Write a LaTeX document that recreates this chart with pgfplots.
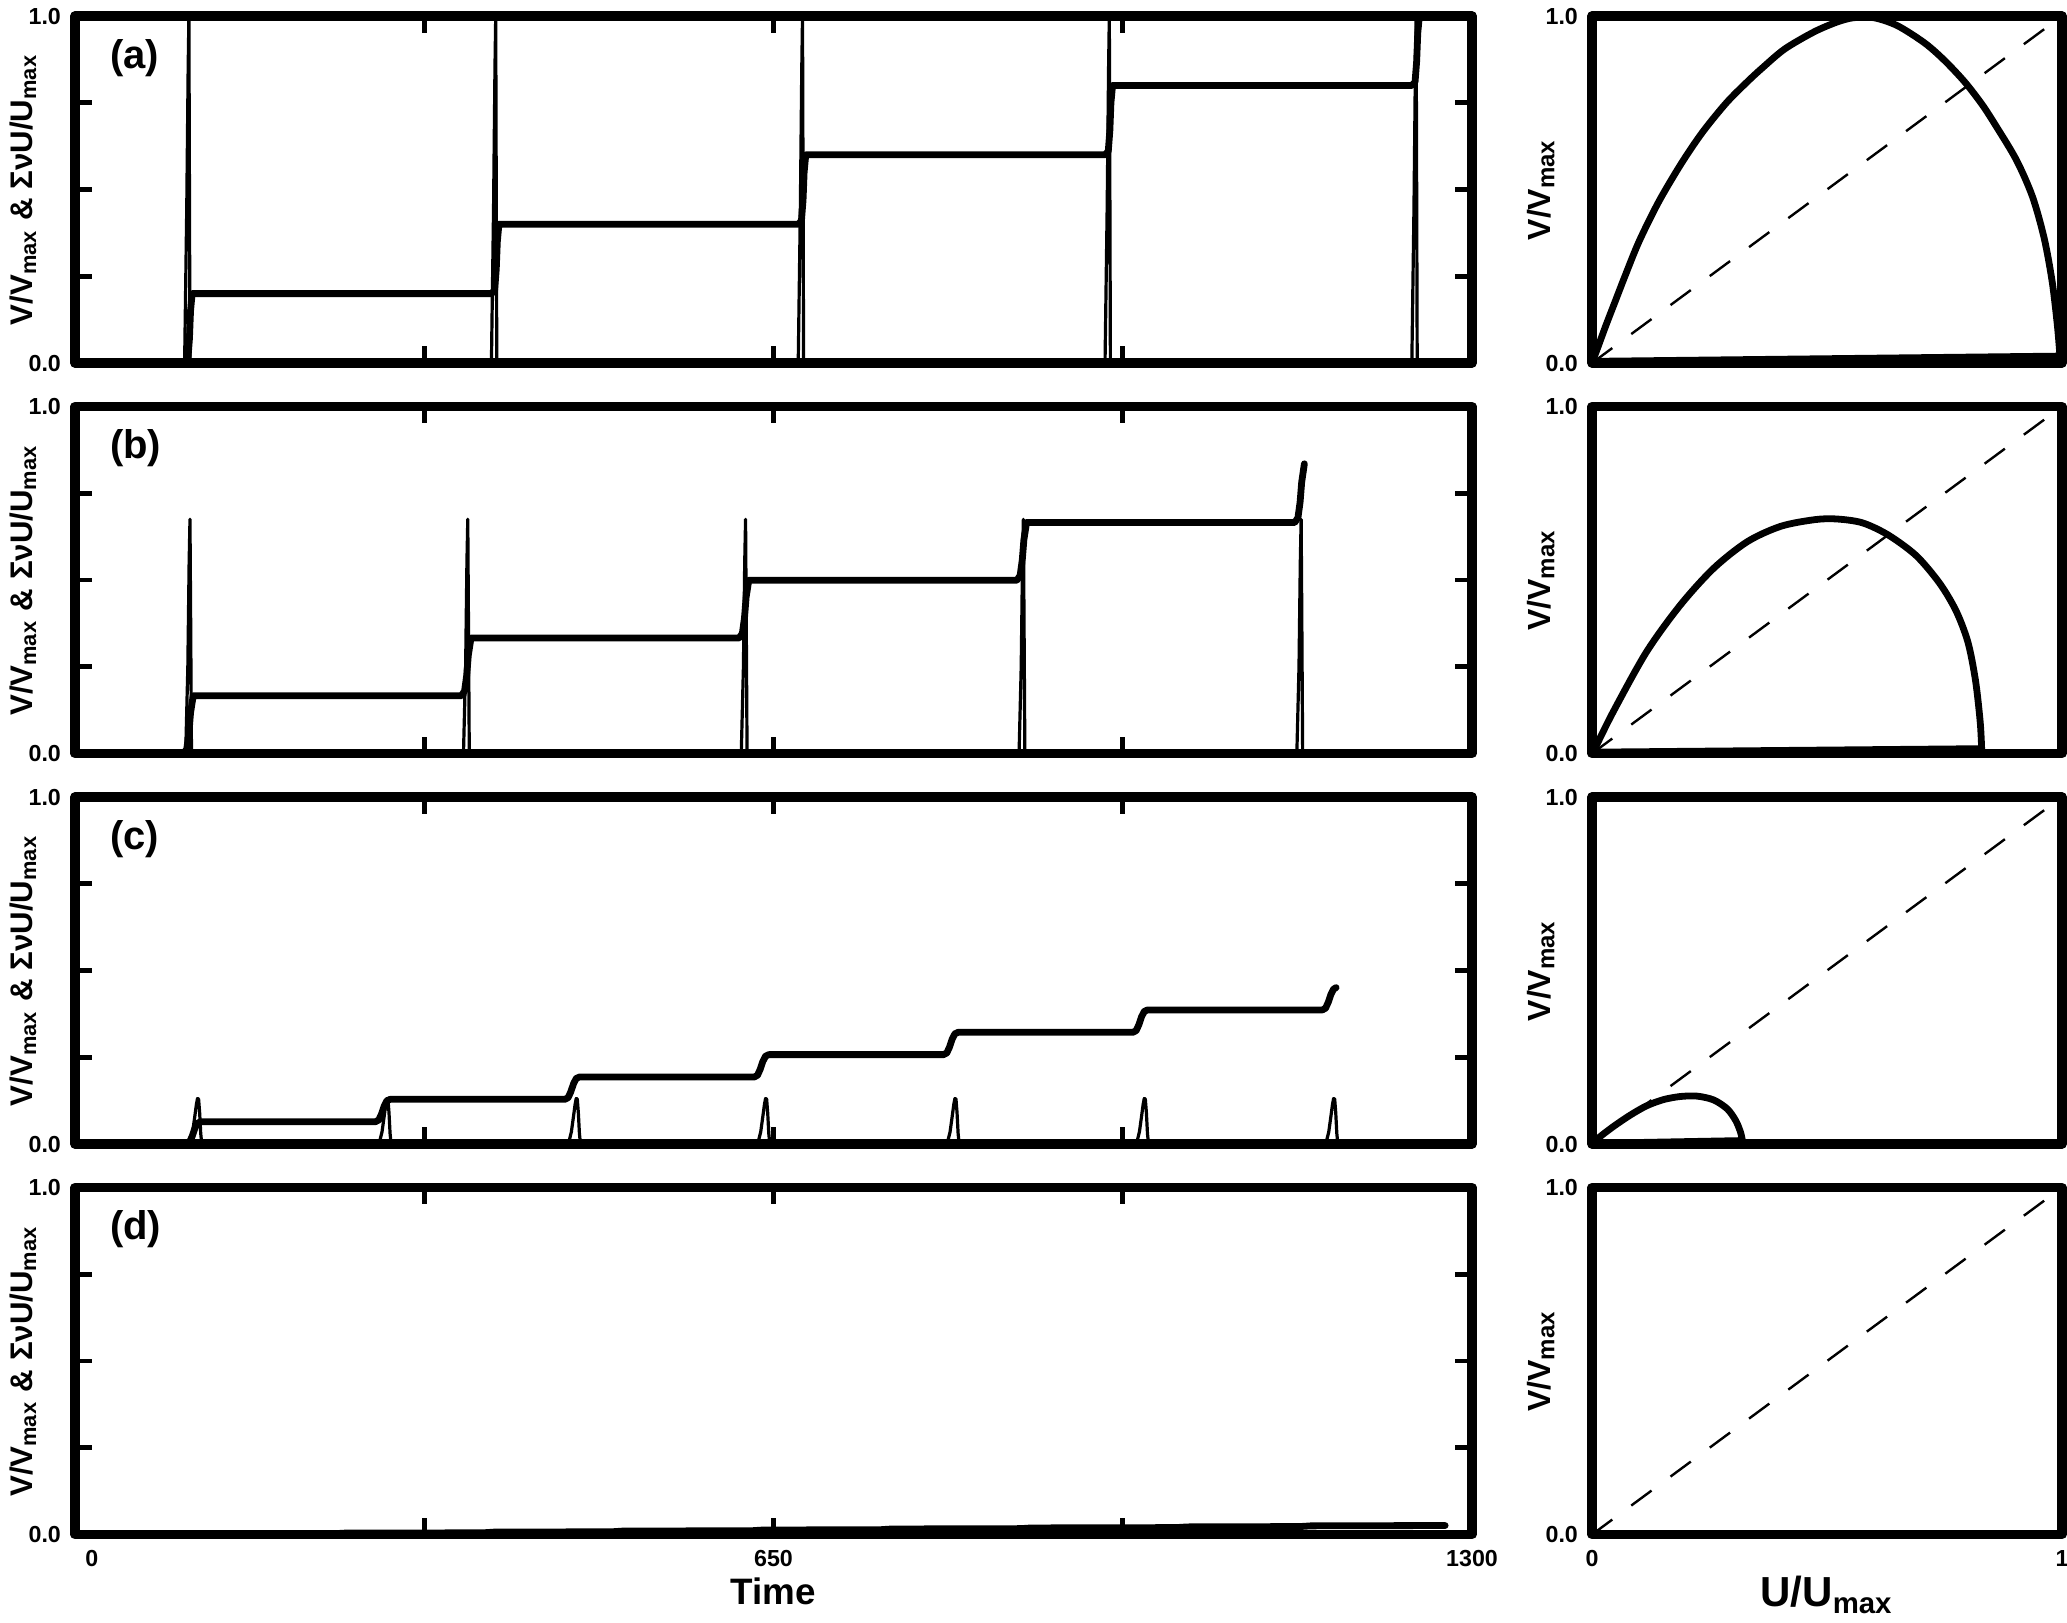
\documentclass[border=0pt]{standalone}
\usepackage{fontspec}
\setmainfont{Liberation Sans}
\usepackage{pgfplots}
\pgfplotsset{compat=1.18}

\pgfplotsset{
  panel/.style={
    scale only axis, axis on top,
    height=86.75pt, ymin=0, ymax=1,
    axis line style={line width=2.3pt, line join=round, line cap=round},
    tick align=inside, major tick length=4.2pt,
    every tick/.style={black, line width=1.2pt},
    /pgf/number format/assume math mode=true,
    tick label style={font=\fontsize{5.8}{6.5}\selectfont\bfseries},
    xticklabel style={yshift=-0.5pt},
  },
  leftp/.style={panel, width=349.25pt, xmin=0, xmax=1300,
    xtick={0,325,650,975,1300}, xticklabels={},
    ytick={0,0.25,0.5,0.75,1}, yticklabels={0.0,{},{},{},1.0},
    ylabel={V/V\textsubscript{max} \& ΣνU/U\textsubscript{max}},
    every axis y label/.style={at={(axis description cs:-0.0372,0.5)},
      rotate=90, anchor=center, font=\fontsize{7.8}{9}\selectfont\bfseries},
  },
  rightp/.style={panel, width=117.5pt, xmin=0, xmax=1,
    xtick={0,1}, xticklabels={}, ytick={0,1}, yticklabels={0.0,1.0},
    ylabel={V/V\textsubscript{max}},
    every axis y label/.style={at={(axis description cs:-0.1085,0.5)},
      rotate=90, anchor=center, font=\fontsize{8}{9}\selectfont\bfseries},
  },
}
\tikzset{
  thn/.style={black, line width=0.8pt, line join=round},
  thk/.style={black, line width=1.7pt, line join=round, line cap=round},
  diag/.style={black, line width=0.6pt, dash pattern=on 6.3pt off 5.9pt},
  tag/.style={anchor=west, font=\fontsize{10}{12}\selectfont\bfseries},
}

\begin{document}
\begin{tikzpicture}
\useasboundingbox (0,0) rectangle (516.75pt,-405.5pt);

% ---------- (a) ----------
\begin{axis}[leftp, at={(18.75pt,-90.75pt)}, anchor=south west]
\addplot[thn] coordinates {
  (0,0)(102,0)(104,0.45)(105.3,0.85)(106,1)(106.5,0.5)(107,0)
  (387.5,0)(389.5,0.45)(390.8,0.85)(391.5,1)(392,0.5)(392.5,0)
  (673,0)(675,0.45)(676.3,0.85)(677,1)(677.5,0.5)(678,0)
  (958.5,0)(960.5,0.45)(961.8,0.85)(962.5,1)(963,0.5)(963.5,0)
  (1244,0)(1246,0.45)(1247.3,0.85)(1248,1)(1248.5,0.5)(1249,0)
};
\addplot[thk] coordinates {
  (0,0)(102,0)(105,0.01)(106.5,0.07)(107.5,0.15)(109,0.2)
  (387.5,0.2)(390.5,0.21)(392,0.27)(393,0.35)(394.5,0.4)
  (673,0.4)(676,0.41)(677.5,0.47)(678.5,0.55)(680,0.6)
  (958.5,0.6)(961.5,0.61)(963,0.67)(964,0.75)(965.5,0.8)
  (1244,0.8)(1247,0.81)(1248.5,0.87)(1249.5,0.95)(1251,1.0)
};
\node[tag] at (axis description cs:0.015,0.879) {(a)};
\end{axis}

\begin{axis}[rightp, at={(398pt,-90.75pt)}, anchor=south west]
\addplot[diag] coordinates {(0,0)(1,1)};
\addplot[thk, smooth] coordinates {
  (0,0)(0.011,0.04)(0.03,0.11)(0.05,0.18)(0.07,0.25)(0.1,0.35)
  (0.142,0.465)(0.19,0.575)(0.235,0.665)(0.286,0.75)(0.33,0.81)
  (0.362,0.85)(0.41,0.905)(0.472,0.954)(0.52,0.982)(0.556,0.995)
  (0.6,0.995)(0.65,0.972)(0.708,0.922)(0.75,0.872)(0.793,0.81)
  (0.83,0.745)(0.861,0.68)(0.903,0.585)(0.937,0.48)(0.962,0.36)
  (0.979,0.235)(0.99,0.11)(0.995,0.03)
};
\addplot[thk] coordinates {(0.995,0.03)(0.997,0.02)(0.01,0.005)(0,0)};
\end{axis}

% ---------- (b) ----------
\begin{axis}[leftp, at={(18.75pt,-188.375pt)}, anchor=south west]
\addplot[thn] coordinates {
  (0,0)(103,0)(105,0.25)(106.2,0.55)(107,0.675)(107.6,0.4)(108.4,0)
  (361.5,0)(363.5,0.25)(364.7,0.55)(365.5,0.675)(366.1,0.4)(366.9,0)
  (620,0)(622,0.25)(623.2,0.55)(624,0.675)(624.6,0.4)(625.4,0)
  (878.5,0)(880.5,0.25)(881.7,0.55)(882.5,0.675)(883.1,0.4)(883.9,0)
  (1137,0)(1139,0.25)(1140.2,0.55)(1141,0.675)(1141.6,0.4)(1142.4,0)
};
\addplot[thk] coordinates {
  (0,0)(101,0)(104,0.013)(106,0.058)(107.5,0.117)(110,0.1665)
  (359.5,0.1665)(362.5,0.18)(364.5,0.225)(366,0.283)(368.5,0.333)
  (618,0.333)(621,0.346)(623,0.391)(624.5,0.45)(627,0.4995)
  (876.5,0.4995)(879.5,0.513)(881.5,0.558)(883,0.616)(885.5,0.666)
  (1135,0.666)(1138,0.679)(1140,0.724)(1141.5,0.782)(1144,0.835)
};
\node[tag] at (axis description cs:0.015,0.879) {(b)};
\end{axis}

\begin{axis}[rightp, at={(398pt,-188.375pt)}, anchor=south west]
\addplot[diag] coordinates {(0,0)(1,1)};
\addplot[thk, smooth] coordinates {
  (0,0)(0.006,0.014)(0.045,0.12)(0.116,0.293)(0.188,0.428)(0.259,0.534)
  (0.331,0.611)(0.402,0.655)(0.474,0.674)(0.52,0.676)(0.575,0.665)
  (0.63,0.63)(0.69,0.57)(0.74,0.49)(0.775,0.41)(0.8,0.32)(0.816,0.21)
  (0.826,0.09)(0.829,0.014)
};
\addplot[thk] coordinates {(0.829,0.014)(0.005,0.004)(0,0)};
\end{axis}

% ---------- (c) ----------
\begin{axis}[leftp, at={(18.75pt,-286pt)}, anchor=south west]
\addplot[thn] coordinates {
  (0,0)(105.5,0)(107.5,0.01)(109.5,0.035)(111.5,0.08)(113,0.115)(114,0.131)(115,0.13)(116,0.09)(117,0.03)(118,0)
  (281.7,0)(283.7,0.01)(285.7,0.035)(287.7,0.08)(289.2,0.115)(290.2,0.131)(291.2,0.13)(292.2,0.09)(293.2,0.03)(294.2,0)
  (457.9,0)(459.9,0.01)(461.9,0.035)(463.9,0.08)(465.4,0.115)(466.4,0.131)(467.4,0.13)(468.4,0.09)(469.4,0.03)(470.4,0)
  (634.1,0)(636.1,0.01)(638.1,0.035)(640.1,0.08)(641.6,0.115)(642.6,0.131)(643.6,0.13)(644.6,0.09)(645.6,0.03)(646.6,0)
  (810.3,0)(812.3,0.01)(814.3,0.035)(816.3,0.08)(817.8,0.115)(818.8,0.131)(819.8,0.13)(820.8,0.09)(821.8,0.03)(822.8,0)
  (986.5,0)(988.5,0.01)(990.5,0.035)(992.5,0.08)(994,0.115)(995,0.131)(996,0.13)(997,0.09)(998,0.03)(999,0)
  (1162.7,0)(1164.7,0.01)(1166.7,0.035)(1168.7,0.08)(1170.2,0.115)(1171.2,0.131)(1172.2,0.13)(1173.2,0.09)(1174.2,0.03)(1175.2,0)
};
\addplot[thk] coordinates {
  (0,0)(103.5,0)(106.5,0.005)(109,0.022)(111.5,0.045)(114,0.06)(117,0.0644)
  (279.7,0.0644)(282.7,0.0694)(285.2,0.0864)(287.7,0.1094)(290.2,0.1244)(293.2,0.1288)
  (455.9,0.1288)(458.9,0.1338)(461.4,0.1508)(463.9,0.1738)(466.4,0.1888)(469.4,0.1932)
  (632.1,0.1932)(635.1,0.1982)(637.6,0.2152)(640.1,0.2382)(642.6,0.2532)(645.6,0.2576)
  (808.3,0.2576)(811.3,0.2626)(813.8,0.2796)(816.3,0.3026)(818.8,0.3176)(821.8,0.322)
  (984.5,0.322)(987.5,0.327)(990,0.344)(992.5,0.367)(995,0.382)(998,0.3864)
  (1160.7,0.3864)(1163.7,0.3914)(1166.2,0.4084)(1168.7,0.4314)(1171.2,0.4464)(1173.5,0.4508)
};
\node[tag] at (axis description cs:0.015,0.879) {(c)};
\end{axis}

\begin{axis}[rightp, at={(398pt,-286pt)}, anchor=south west]
\addplot[diag] coordinates {(0,0)(1,1)};
\addplot[thk, smooth] coordinates {
  (0,0)(0.016,0.02)(0.045,0.05)(0.081,0.083)(0.116,0.11)(0.152,0.128)
  (0.188,0.137)(0.224,0.138)(0.259,0.127)(0.288,0.101)(0.306,0.067)
  (0.316,0.034)(0.320,0.010)
};
\addplot[thk] coordinates {(0.320,0.010)(0.003,0.002)(0,0)};
\end{axis}

% ---------- (d) ----------
\begin{axis}[leftp, at={(18.75pt,-383.625pt)}, anchor=south west,
  xticklabels={\makebox[0pt][l]{\hspace{2.6pt}0},{},650,{},1300},
  xlabel={Time},
  every axis x label/.style={at={(axis description cs:0.5,0)}, anchor=base,
    yshift=-17.6pt, font=\fontsize{9.2}{11}\selectfont\bfseries}]
\addplot[thk] coordinates {
  (0,0)(240,0.002)(250,0.004)(380,0.005)(390,0.007)(500,0.008)(510,0.010)
  (630,0.011)(640,0.013)(750,0.014)(760,0.016)(880,0.017)(890,0.019)
  (1025,0.020)(1035,0.022)(1140,0.023)(1150,0.025)(1275,0.026)
};
\node[tag] at (axis description cs:0.015,0.879) {(d)};
\end{axis}

\begin{axis}[rightp, at={(398pt,-383.625pt)}, anchor=south west,
  xticklabels={0,1},
  xlabel={U/U\textsubscript{max}},
  every axis x label/.style={at={(axis description cs:0.5,0)}, anchor=base,
    yshift=-18.1pt, font=\fontsize{10.5}{12}\selectfont\bfseries}]
\addplot[diag] coordinates {(0,0)(1,1)};
\end{axis}
\end{tikzpicture}
\end{document}
